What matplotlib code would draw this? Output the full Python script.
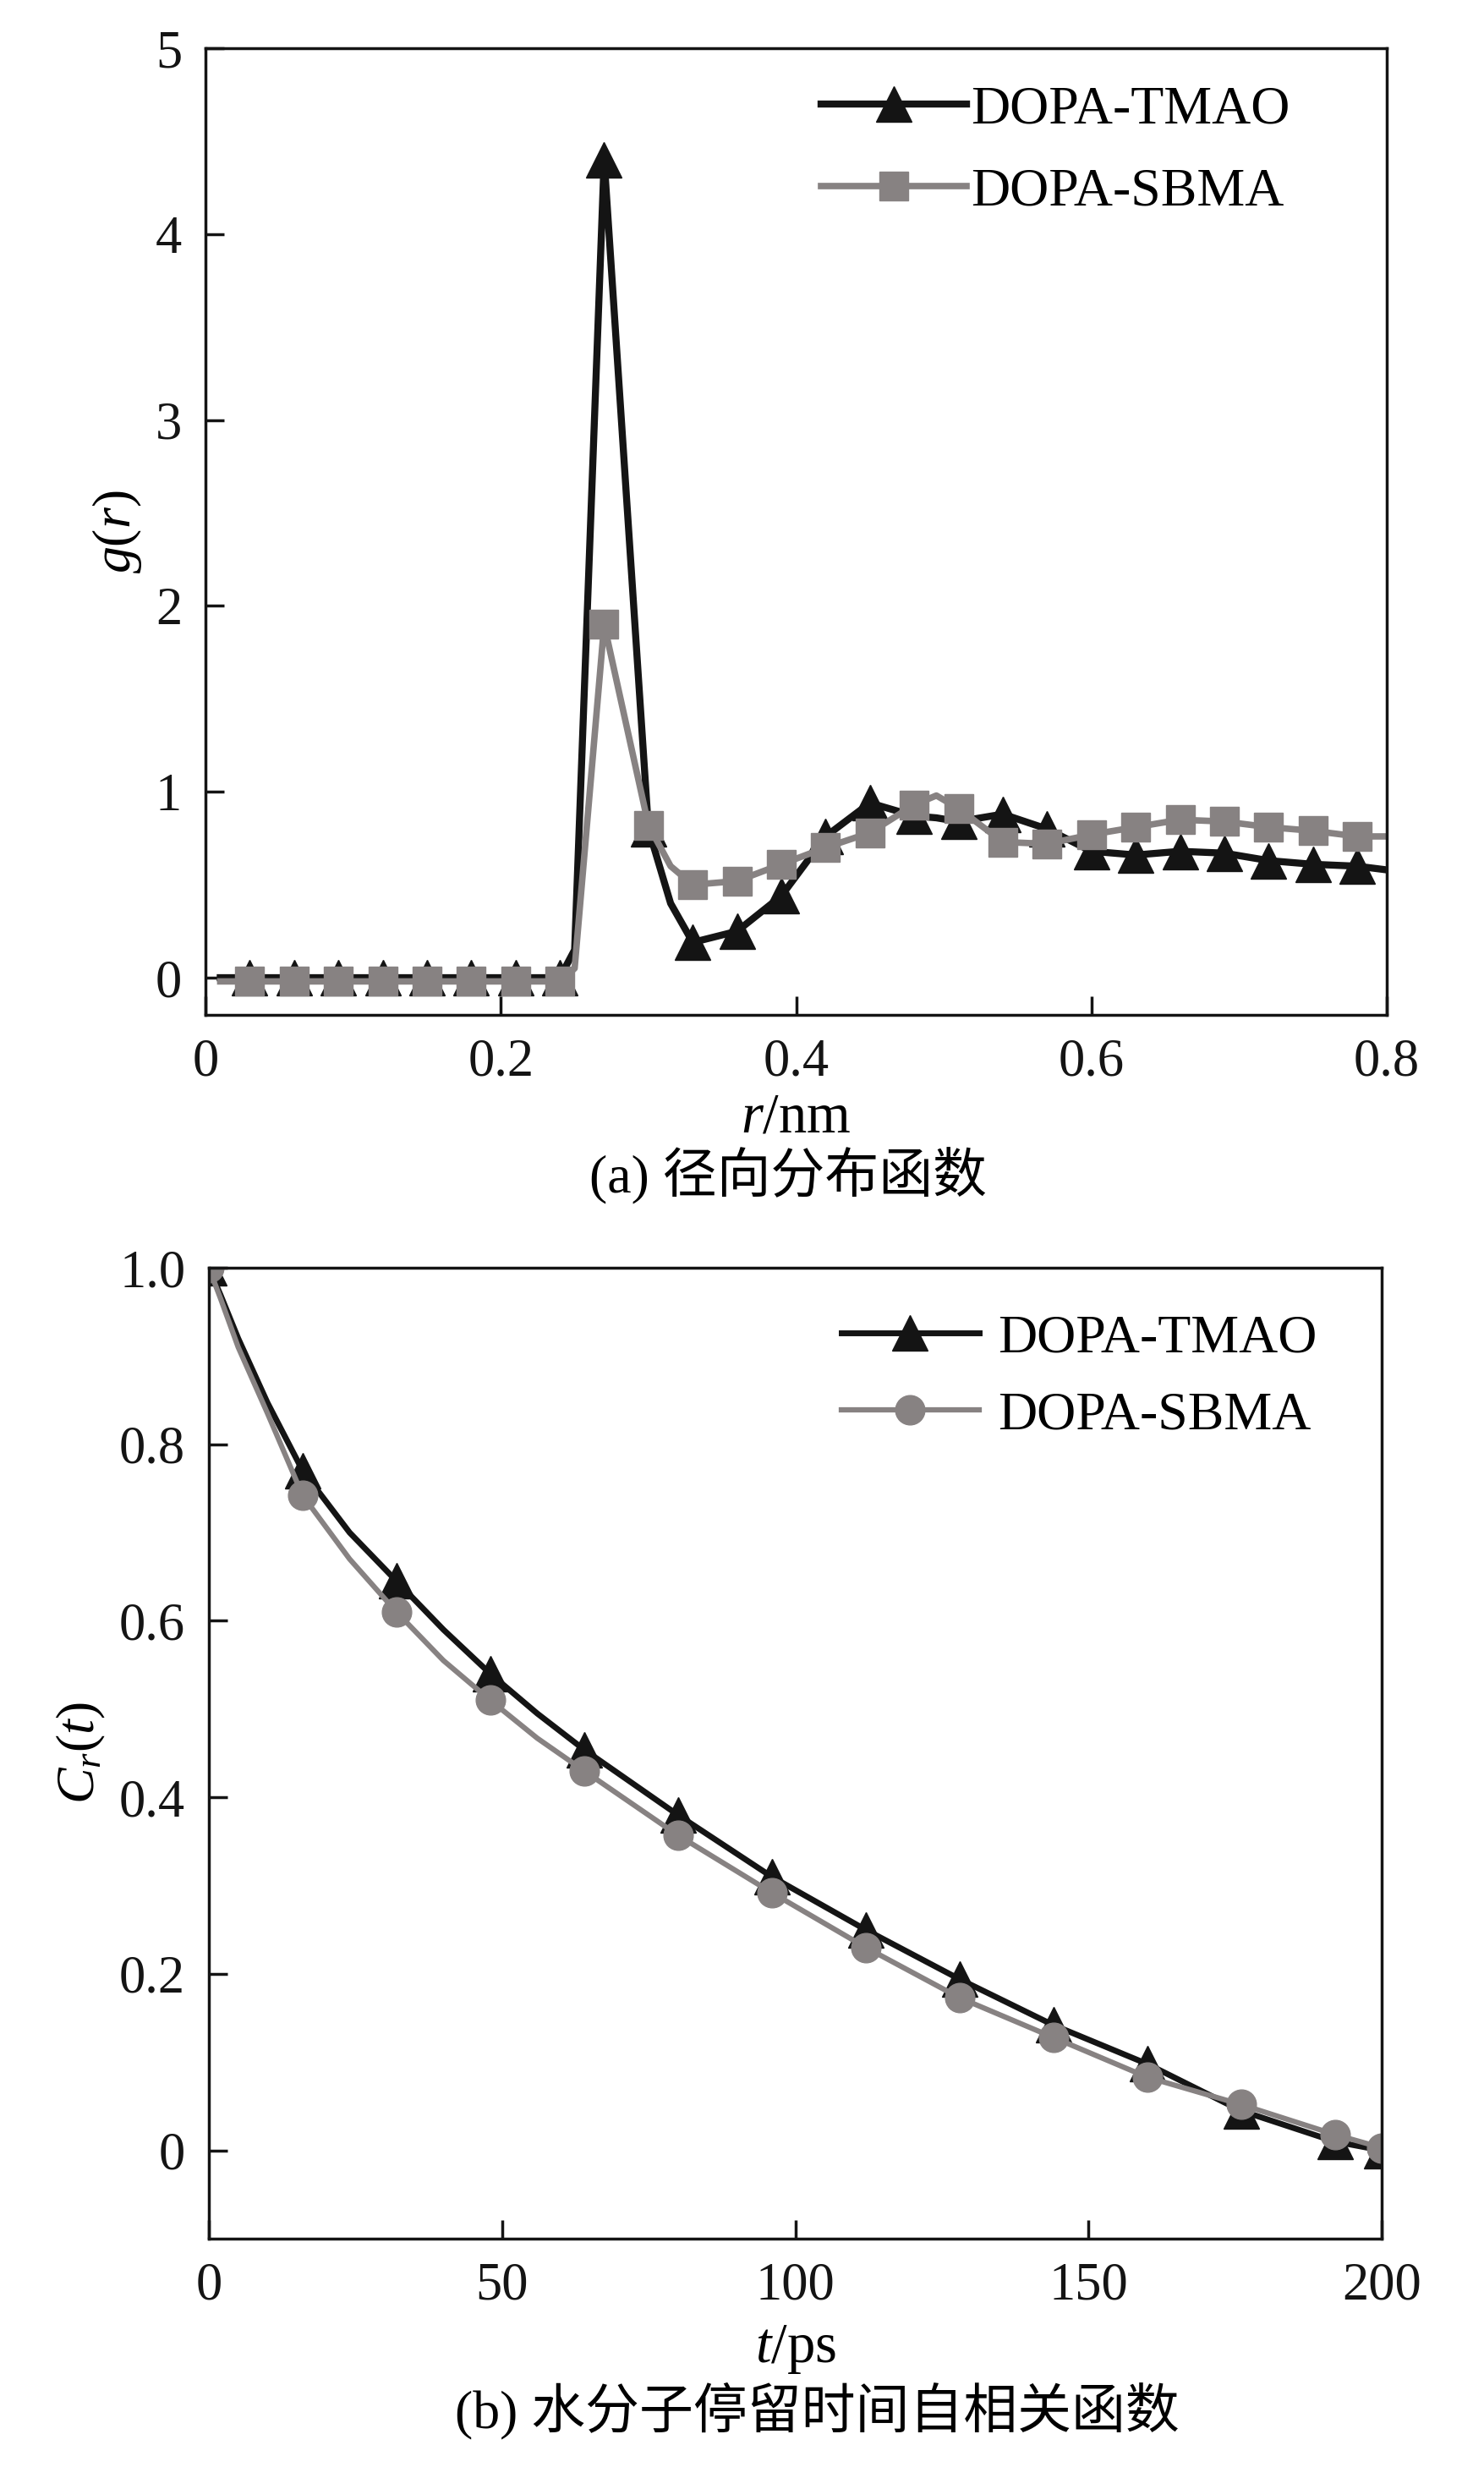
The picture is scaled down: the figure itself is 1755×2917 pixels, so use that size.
import matplotlib
matplotlib.use('Agg')
import matplotlib.pyplot as plt

plt.rcParams['font.family'] = ['Liberation Serif', 'Noto Sans CJK SC']
plt.rcParams['mathtext.fontset'] = 'custom'
plt.rcParams['mathtext.rm'] = 'Liberation Serif'
plt.rcParams['mathtext.it'] = 'Liberation Serif:italic'

# (a) radial distribution function
r_nm = [0.01, 0.03, 0.06, 0.09, 0.12, 0.15, 0.18, 0.21, 0.24, 0.25, 0.27, 0.30, 0.315,
        0.33, 0.36, 0.39, 0.42, 0.45, 0.48, 0.495, 0.51, 0.54, 0.57, 0.60, 0.63, 0.66,
        0.69, 0.72, 0.75, 0.78, 0.80]
g_tmao = [0.0, 0.0, 0.0, 0.0, 0.0, 0.0, 0.0, 0.0, 0.0, 0.15, 4.4, 0.8, 0.4,
          0.19, 0.25, 0.44, 0.76, 0.94, 0.87, 0.86, 0.84, 0.88, 0.8, 0.68, 0.66, 0.68,
          0.67, 0.63, 0.61, 0.6, 0.58]
g_sbma = [-0.02, -0.02, -0.02, -0.02, -0.02, -0.02, -0.02, -0.02, -0.02, 0.05, 1.9, 0.82, 0.6,
          0.5, 0.52, 0.61, 0.7, 0.78, 0.93, 0.98, 0.91, 0.73, 0.72, 0.77, 0.81, 0.85,
          0.84, 0.81, 0.79, 0.76, 0.76]
r_marks = [0.03, 0.06, 0.09, 0.12, 0.15, 0.18, 0.21, 0.24, 0.27, 0.30, 0.33, 0.36, 0.39,
           0.42, 0.45, 0.48, 0.51, 0.54, 0.57, 0.60, 0.63, 0.66, 0.69, 0.72, 0.75, 0.78]

# (b) residence time autocorrelation
t_ps = [0, 2, 5, 10, 16, 24, 32, 40, 48, 56, 64, 80, 96, 112, 128, 144, 160, 176, 192, 200]
c_tmao = [1.0, 0.969, 0.92, 0.847, 0.77, 0.70, 0.645, 0.59, 0.54, 0.495, 0.454, 0.38,
          0.31, 0.25, 0.194, 0.142, 0.098, 0.045, 0.01, 0.0]
c_sbma = [1.0, 0.965, 0.91, 0.835, 0.742, 0.67, 0.61, 0.555, 0.51, 0.467, 0.43, 0.357,
          0.292, 0.23, 0.173, 0.128, 0.083, 0.052, 0.018, 0.003]
t_marks = [0, 16, 32, 48, 64, 80, 96, 112, 128, 144, 160, 176, 192, 200]

labels = ['DOPA-TMAO', 'DOPA-SBMA']
black = '#141414'
grey = '#878282'

mark_a = [i for i, v in enumerate(r_nm) if any(abs(v - m) < 1e-6 for m in r_marks)]
mark_b = [i for i, v in enumerate(t_ps) if v in t_marks]

fig = plt.figure(figsize=(17.55, 29.17), dpi=100)
ax1 = fig.add_axes([243 / 1755, 1 - 1200 / 2917, 1397 / 1755, 1143 / 2917])
ax2 = fig.add_axes([247 / 1755, 1 - 2647 / 2917, 1387 / 1755, 1148 / 2917])

ax1.plot(r_nm, g_tmao, color=black, lw=6, marker='^', ms=30, markevery=mark_a,
         label=labels[0], solid_joinstyle='round')
ax1.plot(r_nm, g_sbma, color=grey, lw=5.5, marker='s', ms=24, markevery=mark_a,
         label=labels[1], solid_joinstyle='round')
ax1.set_xlim(0, 0.8)
ax1.set_ylim(-0.2, 5)
ax1.set_xticks([0, 0.2, 0.4, 0.6, 0.8])
ax1.set_xticklabels(['0', '0.2', '0.4', '0.6', '0.8'])
ax1.set_yticks([0, 1, 2, 3, 4, 5])
ax1.set_yticklabels(['0', '1', '2', '3', '4', '5'])
ax1.set_ylabel('$g$($r$)', fontsize=46, labelpad=10)
ax1.legend(loc='upper left', bbox_to_anchor=(0.521, 0.962), frameon=False, fontsize=46,
           handlelength=2.7, handletextpad=0.07, labelspacing=0.6, borderpad=0,
           borderaxespad=0)

ax2.plot(t_ps, c_tmao, color=black, lw=5, marker='^', ms=30, markevery=mark_b,
         label=labels[0])
ax2.plot(t_ps, c_sbma, color=grey, lw=4.5, marker='o', ms=25, markevery=mark_b,
         label=labels[1])
ax2.set_xlim(0, 200)
ax2.set_ylim(-0.1, 1.0)
ax2.set_xticks([0, 50, 100, 150, 200])
ax2.set_yticks([0, 0.2, 0.4, 0.6, 0.8, 1.0])
ax2.set_yticklabels(['0', '0.2', '0.4', '0.6', '0.8', '1.0'])
ax2.set_ylabel('$C_r$($t$)', fontsize=46, labelpad=10)
ax2.legend(loc='upper left', bbox_to_anchor=(0.539, 0.952), frameon=False, fontsize=46,
           handlelength=2.55, handletextpad=0.36, labelspacing=0.5, borderpad=0,
           borderaxespad=0)

for ax in (ax1, ax2):
    for sp in ax.spines.values():
        sp.set_linewidth(2.5)
        sp.set_color(black)
    ax.tick_params(direction='in', length=16, width=2.5, labelsize=45, pad=20,
                   top=False, right=False, colors=black)

fig.text(941 / 1755, 1 - 1322 / 2917, '$r$/nm', fontsize=48, ha='center', va='center')
fig.text(932 / 1755, 1 - 1391 / 2917, '(a) 径向分布函数', fontsize=46, ha='center', va='center')
fig.text(941 / 1755, 1 - 2778 / 2917, '$t$/ps', fontsize=48, ha='center', va='center')
fig.text(966 / 1755, 1 - 2851 / 2917, '(b) 水分子停留时间自相关函数', fontsize=46,
         ha='center', va='center')

fig.savefig('out.png', dpi=100)
